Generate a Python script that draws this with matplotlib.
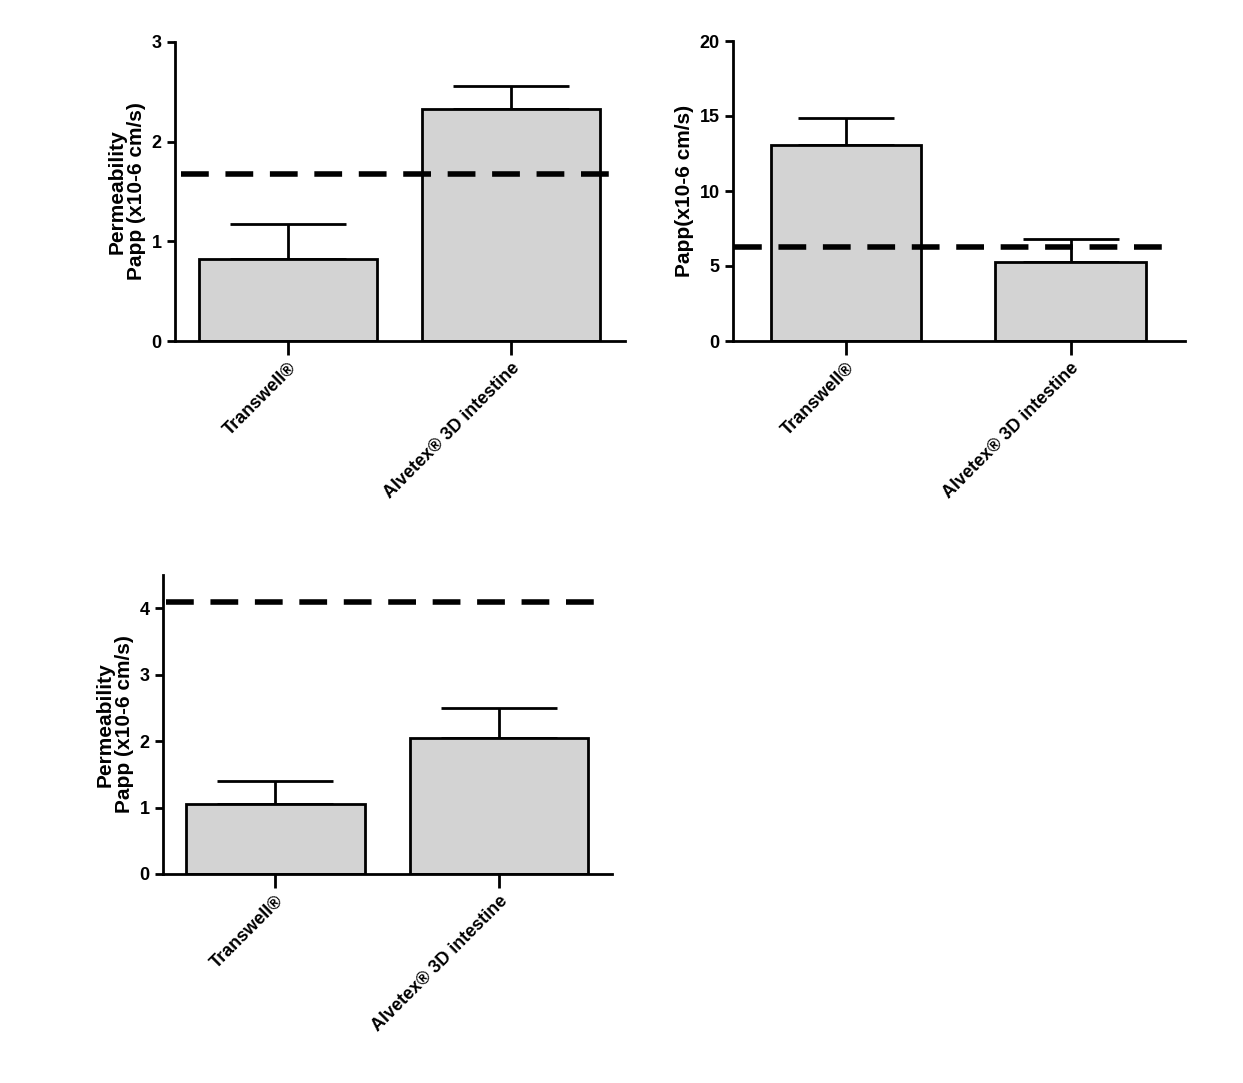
import matplotlib
matplotlib.use("Agg")
import matplotlib.pyplot as plt

plt.rcParams["font.family"] = "Liberation Sans"
plt.rcParams["font.weight"] = "bold"

categories = ["Transwell®", "Alvetex® 3D intestine"]
p1_vals = [0.82, 2.33]; p1_err = [0.35, 0.23]; p1_ref = 1.68
p2_vals = [13.1, 5.3]; p2_err = [1.8, 1.5]; p2_ref = 6.3
p3_vals = [1.05, 2.05]; p3_err = [0.35, 0.45]; p3_ref = 4.1

W, H = 1243, 1083
fig = plt.figure(figsize=(W/100, H/100), dpi=100)

def ax_px(l, r, t, b):
    return fig.add_axes([l/W, 1-b/H, (r-l)/W, (b-t)/H])

def panel(ax, vals, err, ref, ylim, yticks, ylabel, width, xlim, refx):
    x = [0, 1]
    ax.bar(x, vals, width=width, color="#d3d3d3", edgecolor="black", linewidth=2, zorder=2)
    ax.errorbar(x, vals, yerr=[[0, 0], err], fmt="none", ecolor="black",
                elinewidth=2, capsize=width*52, capthick=2, zorder=1)
    ax.plot(refx, [ref, ref], color="black", linestyle=(0, (5, 3)), linewidth=4, zorder=3)
    ax.set_xlim(*xlim); ax.set_ylim(*ylim)
    ax.set_yticks(yticks)
    ax.set_xticks(x)
    ax.set_xticklabels(categories, rotation=45, ha="right", rotation_mode="anchor",
                       fontsize=13, fontweight="bold")
    ax.set_ylabel(ylabel, fontsize=15, fontweight="bold", linespacing=1.0)
    for s in ["top", "right"]:
        ax.spines[s].set_visible(False)
    for s in ["left", "bottom"]:
        ax.spines[s].set_linewidth(2)
    ax.tick_params(width=2, length=6, labelsize=13)
    ax.tick_params(axis="x", length=10)
    for t in ax.get_yticklabels():
        t.set_fontweight("bold")

ax1 = ax_px(175, 625, 42, 341)
panel(ax1, p1_vals, p1_err, p1_ref, (0, 3), [0, 1, 2, 3],
      "Permeability\nPapp (x10-6 cm/s)", 0.8, (-0.507, 1.51), [-0.48, 1.45])
ax2 = ax_px(733, 1185, 41, 341)
panel(ax2, p2_vals, p2_err, p2_ref, (0, 20), [0, 5, 10, 15, 20],
      "Papp(x10-6 cm/s)", 0.67, (-0.504, 1.51), [-0.5, 1.42])
ax3 = ax_px(163, 612, 575, 874)
panel(ax3, p3_vals, p3_err, p3_ref, (0, 4.5), [0, 1, 2, 3, 4],
      "Permeability\nPapp (x10-6 cm/s)", 0.8, (-0.503, 1.506), [-0.49, 1.44])

fig.savefig("out.png", dpi=100)
